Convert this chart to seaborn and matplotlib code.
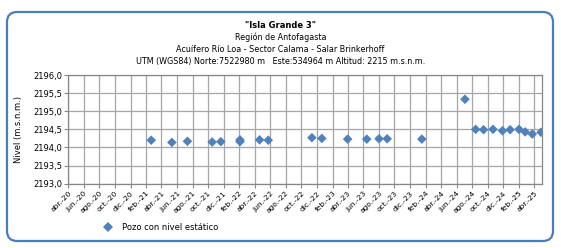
import matplotlib
matplotlib.use("Agg")
import matplotlib.pyplot as plt
from matplotlib.patches import FancyBboxPatch
import pandas as pd
import seaborn as sns

# ---- data ----
dates = ["2021-02-20", "2021-05-12", "2021-07-12", "2021-10-17", "2021-11-20",
         "2022-02-03", "2022-02-03", "2022-04-21", "2022-05-25", "2022-11-12",
         "2022-12-21", "2023-04-01", "2023-06-15", "2023-08-02", "2023-09-03",
         "2024-01-17", "2024-07-04", "2024-08-15", "2024-09-15", "2024-10-22",
         "2024-11-28", "2024-12-28", "2025-02-01", "2025-02-25", "2025-03-25",
         "2025-04-28"]
levels = [2194.20, 2194.14, 2194.17, 2194.15, 2194.16,
          2194.21, 2194.16, 2194.21, 2194.20, 2194.27,
          2194.25, 2194.23, 2194.23, 2194.24, 2194.24,
          2194.23, 2195.33, 2194.50, 2194.49, 2194.50,
          2194.46, 2194.49, 2194.50, 2194.43, 2194.37,
          2194.42]
series_name = "Pozo con nivel estático"
tick_months = pd.date_range("2020-04-01", "2025-04-01", freq="2MS")
month_abbr = {1: "ene.", 2: "feb.", 3: "mar.", 4: "abr.", 5: "may.", 6: "jun.",
              7: "jul.", 8: "ago.", 9: "sept.", 10: "oct.", 11: "nov.", 12: "dic."}
tick_labels = [f"{month_abbr[d.month]}-{d.strftime('%y')}" for d in tick_months]
y_ticks = [2193.0, 2193.5, 2194.0, 2194.5, 2195.0, 2195.5, 2196.0]

title = '"Isla Grande 3"'
subtitles = ["Región de Antofagasta",
             "Acuífero Río Loa - Sector Calama - Salar Brinkerhoff",
             "UTM (WGS84) Norte:7522980 m   Este:534964 m Altitud: 2215 m.s.n.m."]

df = pd.DataFrame({"fecha": pd.to_datetime(dates), "nivel": levels,
                   "serie": series_name})

sns.set_style("white")
plt.rcParams["font.family"] = ["DejaVu Sans"]
plt.rcParams["text.color"] = "black"
plt.rcParams["xtick.color"] = "black"
plt.rcParams["ytick.color"] = "black"
plt.rcParams["axes.labelcolor"] = "black"

fig = plt.figure(figsize=(5.61, 2.48), dpi=100)
# rounded frame
frame = FancyBboxPatch((7 / 561, 7 / 248), 546 / 561, 229 / 248,
                       boxstyle="round,pad=0,rounding_size=0.018",
                       transform=fig.transFigure, facecolor="none",
                       edgecolor="#4A7EBB", linewidth=1.6, zorder=-5,
                       mutation_aspect=561 / 248)
fig.patches.append(frame)

ax = fig.add_axes([68.3 / 561, 1 - 183.7 / 248, (542 - 68.3) / 561, (183.7 - 75) / 248])
ax.set_facecolor("white")

sns.scatterplot(data=df, x="fecha", y="nivel", hue="serie", palette=["#4F81BD"],
                marker="D", s=24, edgecolor="#4F81BD", linewidth=0, ax=ax, zorder=3)

ax.set_xlim(pd.Timestamp("2020-04-01"), pd.Timestamp("2025-05-02"))
ax.set_ylim(2193.0, 2196.0)
ax.set_xticks(tick_months)
ax.set_xticklabels(tick_labels, rotation=45, ha="right", rotation_mode="anchor",
                   fontsize=5.4)
ax.set_yticks(y_ticks)
ax.set_yticklabels([f"{v:.1f}".replace(".", ",") for v in y_ticks], fontsize=6.0)
ax.grid(True, color="#A6A6A6", linewidth=0.9)
ax.set_axisbelow(True)
for sp in ax.spines.values():
    sp.set_color("#868686")
    sp.set_linewidth(0.9)
ax.tick_params(axis="both", length=3, width=0.8, color="#868686", pad=1.5,
               direction="out", bottom=True, left=True)
ax.set_xlabel("")
ax.set_ylabel("Nivel (m.s.n.m.)", fontsize=6.0, labelpad=7)

leg = ax.legend(loc="upper left", bbox_to_anchor=(0.06, -0.33), frameon=False,
                fontsize=6.0, handletextpad=0.6, markerscale=1.0, borderaxespad=0)

fig.text(0.5, 1 - 25 / 248, title, ha="center", va="center", fontsize=6.0,
         fontweight="bold")
for i, s in enumerate(subtitles):
    fig.text(0.5, 1 - (37 + 12.3 * i) / 248, s, ha="center", va="center",
             fontsize=5.8)

fig.savefig("out.png", dpi=100, facecolor="white")
